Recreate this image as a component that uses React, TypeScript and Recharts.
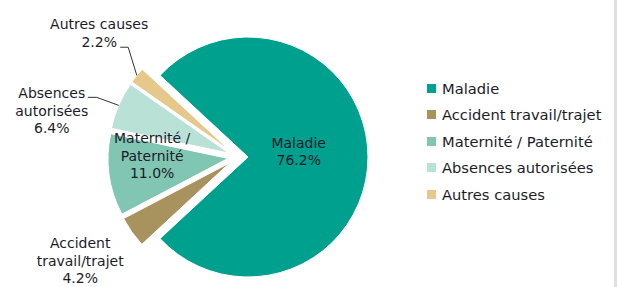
import React from "react";
import { PieChart, Pie, Cell, Legend } from "recharts";

const categories = [
  "Maladie",
  "Accident travail/trajet",
  "Maternité / Paternité",
  "Absences autorisées",
  "Autres causes",
];
const shares = [76.2, 4.2, 11.0, 6.4, 2.2];
const labelLines = [
  ["Maladie"],
  ["Accident", "travail/trajet"],
  ["Maternité /", "Paternité"],
  ["Absences", "autorisées"],
  ["Autres causes"],
];
const colors = ["#00A08F", "#A8935F", "#80C6B3", "#B9E1D6", "#E6C88C"];

const FONT = "'DejaVu Sans', Verdana, sans-serif";
const TEXT = "#1c1c28";
const CX = 238;
const CY = 157;
const RADIUS = 120;
const EXPLODE = 10;
const LINE_H = 17.5;
const START = (shares[0] * 3.6) / 2;
const RAD = Math.PI / 180;

const data = categories.map((name, i) => ({ name, value: shares[i] }));

// middle angle of each slice, going clockwise from START
const midAngles = shares.map((v, i) => {
  const before = shares.slice(0, i).reduce((a, b) => a + b, 0);
  return START - (before + v / 2) * 3.6;
});

// where each label block sits: distance from slice centre, angle tweak, leader elbow
const labelPlace = [
  { r: 51, nudge: 6 },
  { r: 179, nudge: -2 },
  { r: 76, nudge: -10 },
  { r: 182, nudge: 10, leader: [[45, -13.5], [36, -13.5]] },
  { r: 176, nudge: -3, leader: [[29, 14], [21, 14]] },
];

const renderLabel = (p: any, slice: number) => {
  if (p.index !== slice) return null;
  const place = labelPlace[slice];
  const a = (p.midAngle + place.nudge) * RAD;
  const x = p.cx + place.r * Math.cos(a);
  const y = p.cy - place.r * Math.sin(a);
  const lines = [...labelLines[slice], `${shares[slice].toFixed(1)}%`];
  let leader = null;
  if (place.leader) {
    const m = p.midAngle * RAD;
    const ex = p.cx + p.outerRadius * Math.cos(m);
    const ey = p.cy - p.outerRadius * Math.sin(m);
    const pts = [[ex, ey], ...place.leader.map(([dx, dy]) => [x + dx, y + dy])];
    leader = (
      <polyline
        points={pts.map((q) => q.join(",")).join(" ")}
        fill="none"
        stroke="#333"
        strokeWidth={1}
      />
    );
  }
  return (
    <g>
      {leader}
      <text
        x={x}
        y={y}
        textAnchor="middle"
        fontFamily={FONT}
        fontSize={14}
        fill={TEXT}
      >
        {lines.map((t, k) => (
          <tspan
            key={k}
            x={x}
            y={y + (k - (lines.length - 1) / 2) * LINE_H}
            dominantBaseline="central"
          >
            {t}
          </tspan>
        ))}
      </text>
    </g>
  );
};

const renderLegend = () => (
  <div style={{ fontFamily: FONT, fontSize: 14.7, color: TEXT }}>
    {categories.map((c, i) => (
      <div
        key={c}
        style={{ display: "flex", alignItems: "center", height: 26.5 }}
      >
        <span
          style={{
            display: "inline-block",
            width: 9,
            height: 9,
            background: colors[i],
            marginRight: 6,
          }}
        />
        {c}
      </div>
    ))}
  </div>
);

export default function App() {
  return (
    <div
      style={{
        position: "absolute",
        left: 0,
        top: 0,
        width: 617,
        height: 287,
        background: "#fff",
        overflow: "hidden",
      }}
    >
      <PieChart width={617} height={287} margin={{ top: 0, right: 0, bottom: 0, left: 0 }}>
        {shares.map((_, i) => {
          const m = midAngles[i] * RAD;
          return (
            <Pie
              key={categories[i]}
              data={data}
              dataKey="value"
              nameKey="name"
              cx={CX + EXPLODE * Math.cos(m)}
              cy={CY - EXPLODE * Math.sin(m)}
              outerRadius={RADIUS}
              startAngle={START}
              endAngle={START - 360}
              isAnimationActive={false}
              labelLine={false}
              label={(p: any) => renderLabel(p, i)}
              legendType="none"
            >
              {data.map((d, j) => (
                <Cell
                  key={d.name}
                  fill={j === i ? colors[j] : "transparent"}
                  stroke={j === i ? "#fff" : "none"}
                  strokeWidth={1}
                />
              ))}
            </Pie>
          );
        })}
        <Legend
          content={renderLegend}
          layout="vertical"
          wrapperStyle={{ left: 427, top: 75, width: 190 }}
        />
      </PieChart>
      <div
        style={{
          position: "absolute",
          left: 614,
          top: 0,
          width: 3,
          height: 287,
          background: "#e0e0e0",
        }}
      />
    </div>
  );
}
